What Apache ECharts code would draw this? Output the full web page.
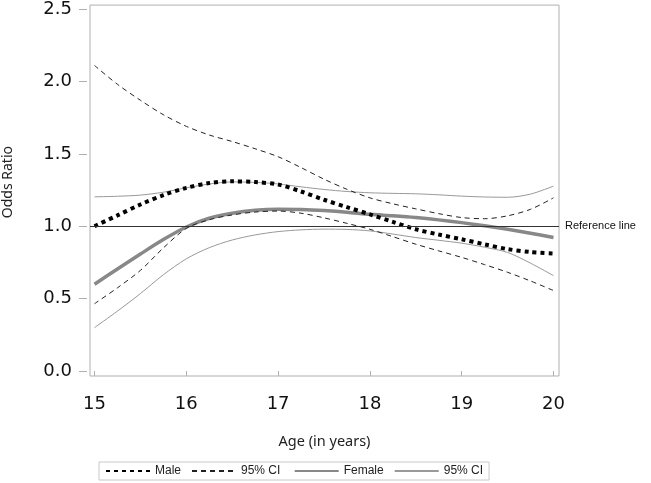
<!DOCTYPE html>
<html>
<head>
<meta charset="utf-8">
<script src="https://cdn.jsdelivr.net/npm/echarts@6/dist/echarts.min.js"></script>
<style>html,body{margin:0;padding:0;background:#fff;}#c{width:651px;height:483px;}</style>
</head>
<body>
<div id="c"></div>
<script>
var ages = [15, 15.25, 15.5, 15.75, 16, 16.25, 16.5, 16.75, 17, 17.25, 17.5, 17.75, 18, 18.25, 18.5, 18.75, 19, 19.25, 19.5, 19.75, 20];
var maleOR      = [1.00, 1.075, 1.15, 1.215, 1.265, 1.298, 1.31, 1.305, 1.288, 1.24, 1.183, 1.132, 1.082, 1.03, 0.979, 0.943, 0.91, 0.875, 0.842, 0.822, 0.812];
var maleUpper   = [2.11, 1.98, 1.87, 1.77, 1.69, 1.63, 1.585, 1.535, 1.48, 1.405, 1.325, 1.255, 1.196, 1.155, 1.12, 1.087, 1.06, 1.052, 1.072, 1.117, 1.196];
var maleLower   = [0.465, 0.575, 0.695, 0.85, 0.985, 1.045, 1.078, 1.098, 1.105, 1.09, 1.058, 1.02, 0.979, 0.928, 0.876, 0.83, 0.785, 0.735, 0.682, 0.622, 0.556];
var femaleOR    = [0.60, 0.705, 0.808, 0.908, 0.995, 1.055, 1.09, 1.11, 1.117, 1.115, 1.108, 1.097, 1.082, 1.072, 1.06, 1.044, 1.025, 1.003, 0.979, 0.952, 0.922];
var femaleUpper = [1.203, 1.207, 1.215, 1.235, 1.265, 1.292, 1.306, 1.303, 1.292, 1.272, 1.254, 1.24, 1.231, 1.227, 1.224, 1.217, 1.208, 1.202, 1.20, 1.222, 1.277];
var femaleLower = [0.30, 0.414, 0.535, 0.665, 0.775, 0.852, 0.905, 0.94, 0.963, 0.975, 0.98, 0.978, 0.968, 0.946, 0.922, 0.903, 0.883, 0.855, 0.819, 0.745, 0.659];
var xTicks = [15, 16, 17, 18, 19, 20];
var yTicks = [0, 0.5, 1.0, 1.5, 2.0, 2.5];
var refValue = 1.0;

function pairs(arr) { return ages.map(function (a, i) { return [a, arr[i]]; }); }

var chart = echarts.init(document.getElementById('c'), null, { renderer: 'canvas' });
var SM = 0.3;
chart.setOption({
  animation: false,
  backgroundColor: '#fff',
  grid: { left: 90, top: 3, width: 469, height: 373, show: true, borderColor: '#b0b0b0', borderWidth: 1, backgroundColor: 'transparent' },
  xAxis: {
    type: 'value', min: 14.951, max: 20.06, offset: 2,
    name: 'Age (in years)', nameLocation: 'middle', nameGap: 56,
    nameTextStyle: { fontFamily: 'Noto Sans', fontSize: 14.5, color: '#222' },
    axisLine: { show: false },
    axisTick: { show: true, length: 5, customValues: xTicks, lineStyle: { color: '#b0b0b0' } },
    axisLabel: { customValues: xTicks, margin: 17, fontFamily: 'DejaVu Sans', fontSize: 18, color: '#111' },
    splitLine: { show: false }
  },
  yAxis: {
    type: 'value', min: -0.034, max: 2.527, offset: 3,
    axisLine: { show: false },
    axisTick: { show: true, length: 8, customValues: yTicks, lineStyle: { color: '#b0b0b0' } },
    axisLabel: { customValues: yTicks, margin: 15, fontFamily: 'DejaVu Sans', fontSize: 18, color: '#111',
      formatter: function (v) { return v.toFixed(1); } },
    splitLine: { show: false }
  },
  legend: {
    left: 99, top: 462, padding: [3, 6, 3, 6], itemGap: 10, itemWidth: 44, itemHeight: 10,
    borderColor: '#c8c8c8', borderWidth: 1,
    itemStyle: { opacity: 0 },
    textStyle: { fontFamily: 'Liberation Sans', fontSize: 12, color: '#222' },
    data: ['Male', '95% CI ', 'Female', '95% CI']
  },
  graphic: [
    { type: 'text', left: 1, top: 146, rotation: Math.PI / 2, silent: true,
      style: { text: 'Odds Ratio', fontFamily: 'Noto Sans', fontSize: 14, fill: '#222' } }
  ],
  series: [
    { name: 'Female', type: 'line', data: pairs(femaleOR), smooth: SM, symbol: 'none', z: 2,
      lineStyle: { color: '#888888', width: 3.5 }, itemStyle: { color: '#888888' } },
    { name: '95% CI', type: 'line', data: pairs(femaleUpper), smooth: SM, symbol: 'none', z: 2,
      lineStyle: { color: '#999999', width: 1 }, itemStyle: { color: '#999999' } },
    { name: '95% CI', type: 'line', data: pairs(femaleLower), smooth: SM, symbol: 'none', z: 2,
      lineStyle: { color: '#999999', width: 1 }, itemStyle: { color: '#999999' } },
    { name: '95% CI ', type: 'line', data: pairs(maleUpper), smooth: SM, symbol: 'none', z: 3,
      lineStyle: { color: '#222', width: 1, type: [5, 4] }, itemStyle: { color: '#222' } },
    { name: '95% CI ', type: 'line', data: pairs(maleLower), smooth: SM, symbol: 'none', z: 3,
      lineStyle: { color: '#222', width: 1, type: [5, 4] }, itemStyle: { color: '#222' } },
    { name: 'Male', type: 'line', data: pairs(maleOR), smooth: SM, symbol: 'none', z: 4,
      lineStyle: { color: '#000', width: 4, type: [4, 4] }, itemStyle: { color: '#000' },
      markLine: { silent: true, symbol: 'none', animation: false,
        lineStyle: { color: '#333', width: 1, type: 'solid' },
        label: { show: true, position: 'end', distance: 6, formatter: 'Reference line',
          fontFamily: 'Liberation Sans', fontSize: 11, color: '#111' },
        data: [{ yAxis: refValue }] } }
  ]
});
</script>
</body>
</html>
